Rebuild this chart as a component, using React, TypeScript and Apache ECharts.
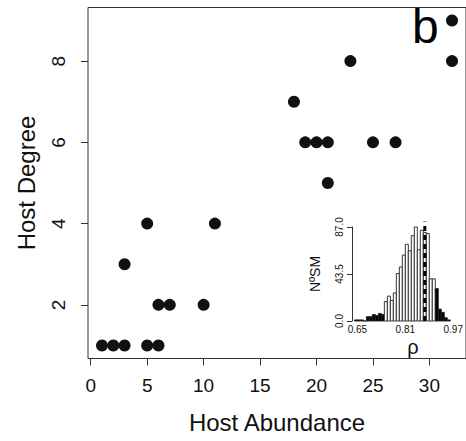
import React, { useEffect, useRef } from "react";
import * as echarts from "echarts";

// Main scatter: Host Abundance vs Host Degree
const abundance = [1, 2, 3, 5, 6, 6, 7, 10, 3, 5, 11, 21, 19, 20, 21, 25, 27, 18, 23, 32, 32];
const degree = [1, 1, 1, 1, 1, 2, 2, 2, 3, 4, 4, 5, 6, 6, 6, 6, 6, 7, 8, 8, 9];
const xTicks = [0, 5, 10, 15, 20, 25, 30];
const yTicks = [2, 4, 6, 8];

// Inset histogram of rho (null models)
const binStarts = [
  0.64, 0.65, 0.66, 0.67, 0.68, 0.69, 0.7, 0.71, 0.72, 0.73, 0.74, 0.75, 0.76, 0.77, 0.78, 0.79,
  0.8, 0.81, 0.82, 0.83, 0.84, 0.85, 0.86, 0.87, 0.88, 0.89, 0.9, 0.91, 0.92, 0.93, 0.94, 0.95,
];
const binWidth = 0.01;
const binCounts = [
  1, 1, 1, 0, 4, 4, 6, 5, 7, 6, 18, 23, 19, 26, 44, 50,
  61, 71, 65, 79, 87, 66, 84, 82, 81, 39, 39, 30, 11, 8, 3, 1,
];
const ciLow = 0.74;
const ciHigh = 0.91;
const observedRho = 0.875;
const insetXTicks = [0.65, 0.81, 0.97];
const insetYTicks = [0, 43.5, 87];

const FONT = "'Liberation Sans', Arial, Helvetica, sans-serif";
const INK = "#111";

export default function App() {
  const ref = useRef<HTMLDivElement>(null);

  useEffect(() => {
    if (!ref.current) return;
    const chart = echarts.init(ref.current, null, { renderer: "svg" });

    const option: any = {
      animation: false,
      backgroundColor: "#fff",
      textStyle: { fontFamily: FONT },
      grid: [
        {
          left: 88,
          top: 7.5,
          width: 385,
          height: 351,
          show: true,
          borderColor: "#333",
          borderWidth: 1,
          backgroundColor: "transparent",
        },
        { left: 352, top: 227, width: 108.8, height: 94 },
      ],
      xAxis: [
        {
          type: "value",
          gridIndex: 0,
          min: -0.24,
          max: 33.24,
          axisLine: { show: false, onZero: false },
          axisTick: { show: true, customValues: xTicks, length: 7, lineStyle: { color: "#333" } },
          axisLabel: { customValues: xTicks, fontSize: 19, color: INK, margin: 17, fontFamily: FONT },
          splitLine: { show: false },
          name: "Host Abundance",
          nameLocation: "middle",
          nameGap: 52,
          nameTextStyle: { fontSize: 24, color: INK, fontFamily: FONT },
        },
        {
          type: "value",
          gridIndex: 1,
          min: 0.632,
          max: 0.97,
          axisLine: { show: false, onZero: false },
          axisTick: { show: false },
          axisLabel: {
            customValues: insetXTicks,
            formatter: (v: number) => v.toFixed(2),
            fontSize: 10,
            color: INK,
            margin: 3,
            fontFamily: FONT,
          },
          splitLine: { show: false },
        },
      ],
      yAxis: [
        {
          type: "value",
          gridIndex: 0,
          min: 0.68,
          max: 9.32,
          axisLine: { show: false, onZero: false },
          axisTick: { show: true, customValues: yTicks, length: 7, lineStyle: { color: "#333" } },
          axisLabel: { customValues: yTicks, rotate: 90, fontSize: 19, color: INK, margin: 20, fontFamily: FONT },
          splitLine: { show: false },
          name: "Host Degree",
          nameLocation: "middle",
          nameGap: 50,
          nameRotate: 90,
          nameTextStyle: { fontSize: 24, color: INK, fontFamily: FONT },
        },
        {
          type: "value",
          gridIndex: 1,
          min: 0,
          max: 87,
          axisLine: { show: true, onZero: false, lineStyle: { color: "#333", width: 1 } },
          axisTick: { show: true, customValues: insetYTicks, length: 5, lineStyle: { color: "#333" } },
          axisLabel: {
            customValues: insetYTicks,
            formatter: (v: number) => v.toFixed(1),
            rotate: 90,
            fontSize: 10,
            color: INK,
            margin: 8,
            fontFamily: FONT,
          },
          splitLine: { show: false },
          name: "NºSM",
          nameLocation: "middle",
          nameGap: 30,
          nameRotate: 90,
          nameTextStyle: { fontSize: 14, color: INK, fontFamily: FONT },
        },
      ],
      series: [
        {
          type: "scatter",
          xAxisIndex: 0,
          yAxisIndex: 0,
          data: abundance.map((x, i) => [x, degree[i]]),
          symbolSize: 12,
          itemStyle: { color: INK, opacity: 1 },
        },
        {
          type: "custom",
          xAxisIndex: 1,
          yAxisIndex: 1,
          data: binStarts.map((s, i) => [s, s + binWidth, binCounts[i]]),
          renderItem: (params: any, api: any) => {
            const x0 = api.value(0);
            const x1 = api.value(1);
            const c = api.value(2);
            const p0 = api.coord([x0, 0]);
            const p1 = api.coord([x1, c]);
            const tail = x0 < ciLow - 1e-9 || x0 >= ciHigh - 1e-9;
            return {
              type: "rect",
              shape: { x: p0[0], y: p1[1], width: p1[0] - p0[0], height: p0[1] - p1[1] },
              style: { fill: tail ? "#000" : "#fff", stroke: "#222", lineWidth: 0.9 },
            };
          },
          z: 3,
        },
        {
          type: "line",
          xAxisIndex: 1,
          yAxisIndex: 1,
          data: [
            [observedRho, 0],
            [observedRho, 92],
          ],
          clip: false,
          symbol: "none",
          lineStyle: { color: "#000", width: 3, type: [5, 4] },
          z: 5,
        },
      ],
      graphic: [
        {
          type: "text",
          left: 412,
          top: 2,
          style: { text: "b", fontSize: 48, fill: "#000", fontFamily: FONT },
        },
        {
          type: "text",
          x: 413,
          y: 347,
          style: {
            text: "ρ",
            fontSize: 20,
            fill: INK,
            fontFamily: FONT,
            align: "center",
            verticalAlign: "middle",
          },
        },
      ],
    };

    chart.setOption(option);
    return () => chart.dispose();
  }, []);

  return (
    <div
      ref={ref}
      style={{ position: "absolute", left: 0, top: 0, width: 466, height: 441 }}
    />
  );
}
